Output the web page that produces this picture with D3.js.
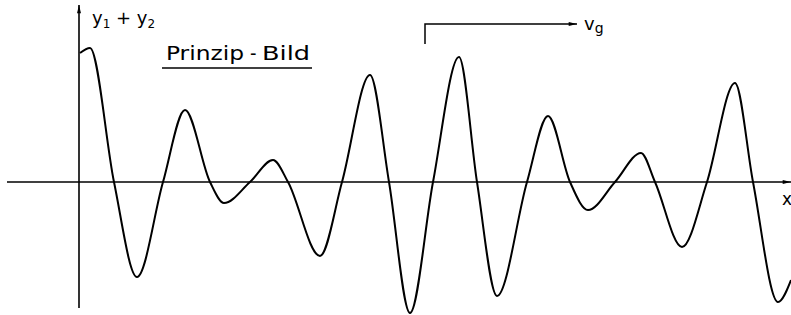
<!DOCTYPE html>
<html><head><meta charset="utf-8">
<script src="https://cdn.jsdelivr.net/npm/d3@7"></script>
<style>html,body{margin:0;padding:0;background:#fff;}svg{display:block;}</style>
</head><body>
<script>
// Data: extrema and zero crossings of the beat signal y1 + y2 (arbitrary units)
const xs = [1, 11, 35, 58, 84, 106, 131, 145, 171, 194, 209, 241, 263, 291, 310, 331, 354, 380, 398, 418, 448, 469, 491, 509, 536, 562, 576, 603, 628, 656, 674, 699, 712];
const ys = [1.29, 1.34, 0, -0.95, 0, 0.72, 0, -0.21, 0, 0.22, 0, -0.74, 0, 1.07, 0, -1.31, 0, 1.25, 0, -1.14, 0, 0.66, 0, -0.28, 0, 0.29, 0, -0.65, 0, 0.99, 0, -1.20, -0.98];
const xDomain = [-79, 712];
const yDomain = [-1.33, 1.82];
const labels = { y: ["y", "1", " + y", "2"], title: ["Prinzip", "-", "Bild"], vg: ["v", "g"], x: "x" };

const W = 791, H = 315;
const svg = d3.select("body").append("svg").attr("width", W).attr("height", H);
const x = d3.scaleLinear().domain(xDomain).range([0, W]);
const y = d3.scaleLinear().domain(yDomain).range([H, 0]);

const defs = svg.append("defs");
defs.append("marker").attr("id", "arr").attr("viewBox", "0 0 10 6").attr("refX", 10).attr("refY", 3)
  .attr("markerWidth", 11).attr("markerHeight", 5).attr("markerUnits", "userSpaceOnUse").attr("orient", "auto")
  .append("path").attr("d", "M0,0.6 L10,3 L0,5.4 Z").attr("fill", "#000");

const x0 = x(0), y0 = y(0);
// axes
svg.append("line").attr("x1", 7).attr("x2", 791).attr("y1", y0).attr("y2", y0)
  .attr("stroke", "#000").attr("stroke-width", 1.6).attr("marker-end", "url(#arr)");
svg.append("line").attr("x1", x0).attr("x2", x0).attr("y1", 308).attr("y2", 5)
  .attr("stroke", "#000").attr("stroke-width", 1.6).attr("marker-end", "url(#arr)");

// curve
const pts = xs.map((d, i) => [d, ys[i]]);
svg.append("path").datum(pts).attr("d", d3.line().x(d => x(d[0])).y(d => y(d[1])).curve(d3.curveMonotoneX))
  .attr("fill", "none").attr("stroke", "#000").attr("stroke-width", 2).attr("stroke-linejoin", "round");

const font = "DejaVu Sans, sans-serif";
// y label
const ty = svg.append("text").attr("x", 92).attr("y", 24).attr("font-family", font).attr("font-size", 18).attr("fill", "#000");
ty.append("tspan").text(labels.y[0]);
ty.append("tspan").attr("font-size", 12).attr("dy", 4).text(labels.y[1]);
ty.append("tspan").attr("dy", -4).text(labels.y[2]);
ty.append("tspan").attr("font-size", 12).attr("dy", 4).text(labels.y[3]);

// title
const tt = svg.append("g").attr("font-family", "DejaVu Sans Condensed, DejaVu Sans, sans-serif").attr("font-size", 20).attr("fill", "#000");
tt.append("text").attr("x", 166).attr("y", 60).attr("textLength", 78).attr("lengthAdjust", "spacingAndGlyphs").text(labels.title[0]);
tt.append("text").attr("x", 250).attr("y", 60).text(labels.title[1]);
tt.append("text").attr("x", 262).attr("y", 60).attr("textLength", 48).attr("lengthAdjust", "spacingAndGlyphs").text(labels.title[2]);
svg.append("line").attr("x1", 162).attr("x2", 312).attr("y1", 68).attr("y2", 68).attr("stroke", "#000").attr("stroke-width", 1.5);

// group velocity arrow
svg.append("path").attr("d", "M425,44 L425,24 L577,24").attr("fill", "none").attr("stroke", "#000")
  .attr("stroke-width", 1.5).attr("marker-end", "url(#arr)");
const tv = svg.append("text").attr("x", 584).attr("y", 30).attr("font-family", font).attr("font-size", 18).attr("fill", "#000");
tv.append("tspan").text(labels.vg[0]);
tv.append("tspan").attr("font-size", 14).attr("dy", 3).text(labels.vg[1]);

// x label
svg.append("text").attr("x", 782).attr("y", 205).attr("font-family", font).attr("font-size", 17).attr("fill", "#000").text(labels.x);
</script>
</body></html>
